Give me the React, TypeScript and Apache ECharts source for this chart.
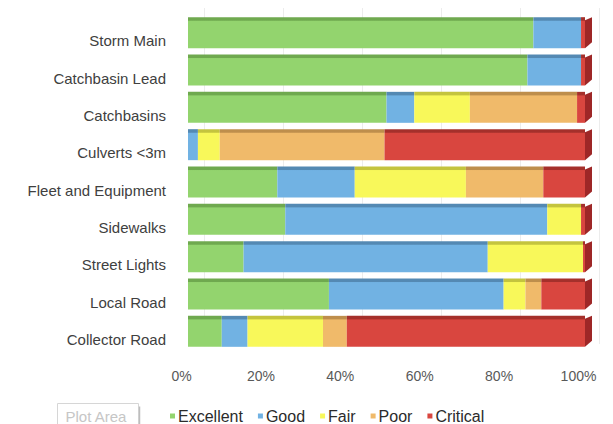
import React, { useEffect, useRef } from "react";
import * as echarts from "echarts";

// Asset condition share (% of inventory) by asset class
const categories = [
  "Storm Main",
  "Catchbasin Lead",
  "Catchbasins",
  "Culverts <3m",
  "Fleet and Equipment",
  "Sidewalks",
  "Street Lights",
  "Local Road",
  "Collector Road",
];
const excellent = [87, 85.5, 50, 0, 22.5, 24.5, 14, 35.5, 8.5];
const good = [12, 13.5, 7, 2.5, 19.5, 66, 61.5, 44, 6.5];
const fair = [0, 0, 14, 5.5, 28, 8.5, 24, 5.5, 19];
const poor = [0, 0, 27, 41.5, 19.5, 0, 0, 4, 6];
const critical = [1, 1, 2, 50.5, 10.5, 1, 0.5, 11, 60];
const xTicks = [0, 20, 40, 60, 80, 100];

const FONT = "'Liberation Sans', Arial, sans-serif";

const conditions = [
  { name: "Excellent", data: excellent, color: "#93D46E", top: "#6FA94F" },
  { name: "Good", data: good, color: "#71B2E3", top: "#5489B3" },
  { name: "Fair", data: fair, color: "#F8F85A", top: "#C4C43E" },
  { name: "Poor", data: poor, color: "#F0BA6A", top: "#BE8E4C" },
  { name: "Critical", data: critical, color: "#D9463F", top: "#A5302B" },
];

const BAR_RATIO = 0.83;

export default function App() {
  const ref = useRef<HTMLDivElement>(null);

  useEffect(() => {
    if (!ref.current) return;
    const chart = echarts.init(ref.current, undefined, { renderer: "svg" });

    const totals = categories.map((_, i) =>
      conditions.reduce((s, c) => s + c.data[i], 0)
    );

    const barSeries = conditions.map((c) => ({
      name: c.name,
      type: "bar",
      stack: "total",
      xAxisIndex: 0,
      yAxisIndex: 0,
      barCategoryGap: "17%",
      data: c.data,
      itemStyle: {
        color: new echarts.graphic.LinearGradient(0, 0, 0, 1, [
          { offset: 0, color: c.top },
          { offset: 0.1, color: c.top },
          { offset: 0.13, color: c.color },
          { offset: 1, color: c.color },
        ]),
      },
    }));

    chart.setOption({
      animation: false,
      backgroundColor: "#ffffff",
      textStyle: { fontFamily: FONT },
      grid: [
        { left: 188, width: 397, top: 14, height: 336 },
        { left: 204, width: 395, top: 8, height: 336 },
      ],
      legend: {
        left: 165,
        top: 403,
        icon: "rect",
        itemWidth: 5,
        itemHeight: 5,
        itemGap: 15,
        textStyle: {
          fontFamily: FONT,
          fontSize: 16,
          color: "#2b2b2b",
          padding: [0, 0, 0, -2],
        },
        data: conditions.map((c) => ({ name: c.name, itemStyle: { color: c.color } })),
      },
      xAxis: [
        {
          type: "value",
          gridIndex: 0,
          min: 0,
          max: 100,
          interval: 20,
          axisLine: { show: false },
          axisTick: { show: false },
          splitLine: { show: false },
          axisLabel: {
            margin: 19,
            formatter: (v: number) =>
              xTicks.includes(v) ? `{v|${v}%}` : "",
            rich: {
              v: {
                fontFamily: FONT,
                fontSize: 14,
                color: "#595959",
                padding: [0, 13, 0, 0],
              },
            },
          },
        },
        {
          type: "value",
          gridIndex: 1,
          min: 0,
          max: 100,
          interval: 20,
          axisLine: { show: false },
          axisTick: { show: false },
          axisLabel: { show: false },
          splitLine: { show: true, lineStyle: { color: "#ececec", width: 1 } },
        },
      ],
      yAxis: [
        {
          type: "category",
          gridIndex: 0,
          inverse: true,
          data: categories,
          axisLine: { show: false },
          axisTick: { show: false },
          axisLabel: {
            margin: 22,
            formatter: (v: string) => `{c|${v}}`,
            rich: {
              c: {
                fontFamily: FONT,
                fontSize: 15,
                color: "#404040",
                padding: [16, 0, 0, 0],
              },
            },
          },
        },
        {
          type: "category",
          gridIndex: 1,
          inverse: true,
          data: categories,
          show: false,
        },
      ],
      series: [
        ...barSeries,
        {
          // side face at the right end of each stacked bar
          type: "custom",
          xAxisIndex: 0,
          yAxisIndex: 0,
          silent: true,
          z: 3,
          encode: { x: 0, y: 1 },
          data: totals.map((t, i) => [t, i]),
          renderItem: (_params: any, api: any) => {
            const p = api.coord([api.value(0), api.value(1)]);
            const h = api.size([0, 1])[1] * BAR_RATIO;
            const top = p[1] - h / 2;
            const bottom = p[1] + h / 2;
            return {
              type: "polygon",
              shape: {
                points: [
                  [p[0], top + 3],
                  [p[0] + 7, top],
                  [p[0] + 7, bottom - 6],
                  [p[0], bottom],
                ],
              },
              style: { fill: "#9E2727" },
            };
          },
        },
      ],
      graphic: [
        {
          type: "group",
          left: 57,
          top: 403,
          children: [
            {
              type: "rect",
              shape: { x: 0, y: 0, width: 81, height: 28 },
              style: { fill: "#ffffff", stroke: "#d6d6d6", lineWidth: 1 },
            },
            {
              type: "line",
              shape: { x1: 82, y1: 3, x2: 82, y2: 28 },
              style: { stroke: "#bdbdbd", lineWidth: 1.5 },
            },
            {
              type: "text",
              x: 8,
              y: 5,
              style: {
                text: "Plot Area",
                fontFamily: FONT,
                fontSize: 15,
                fill: "#c6c6c6",
              },
            },
          ],
        },
      ],
    });

    return () => chart.dispose();
  }, []);

  return (
    <div
      ref={ref}
      style={{ position: "fixed", left: 0, top: 0, width: 613, height: 424 }}
    />
  );
}
